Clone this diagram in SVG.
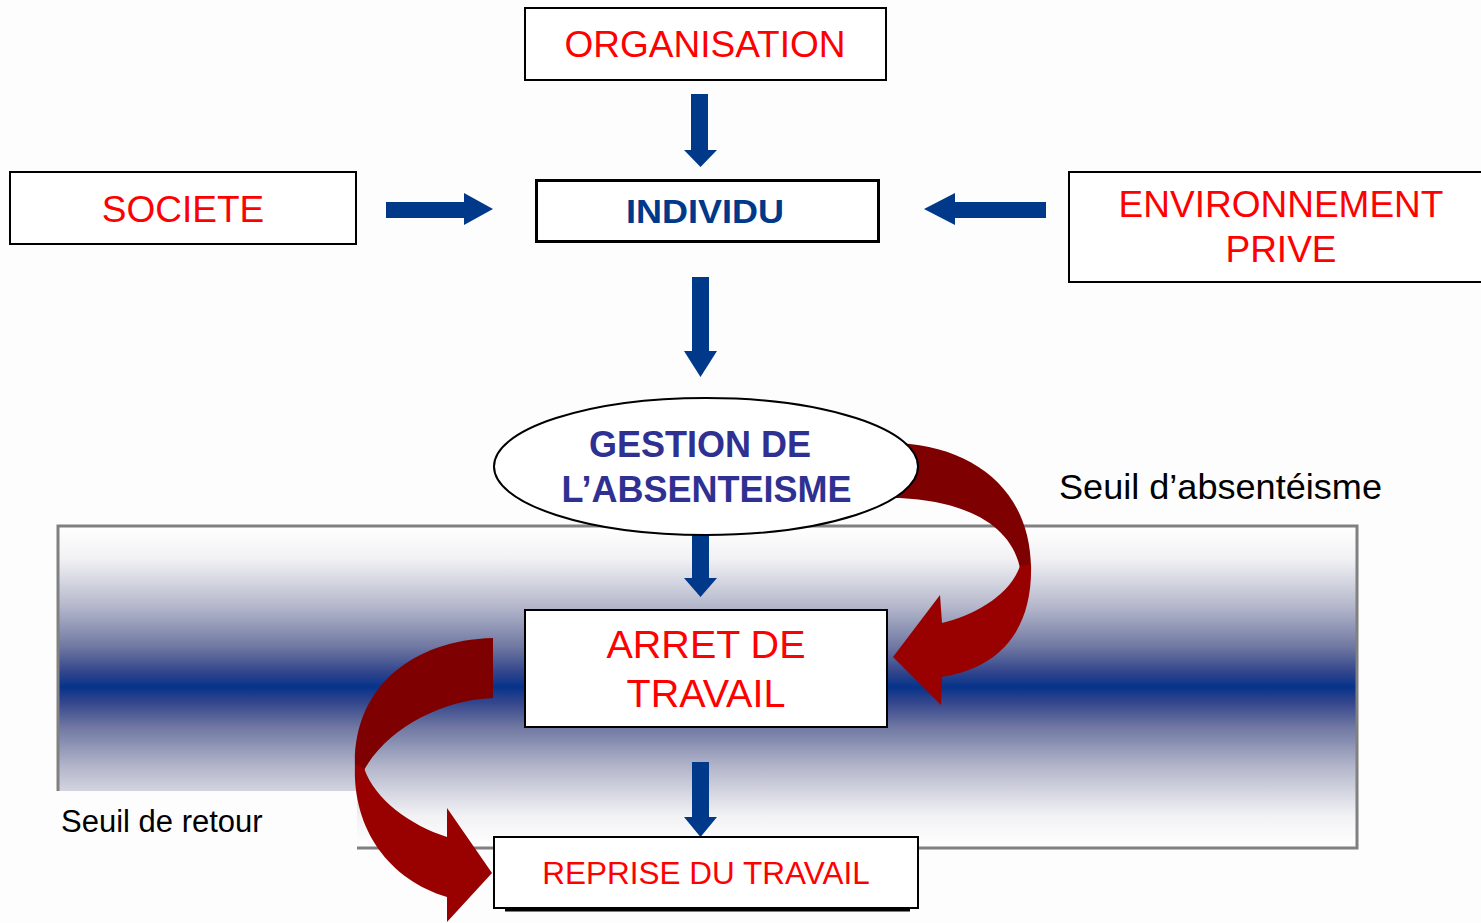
<svg xmlns="http://www.w3.org/2000/svg" width="1481" height="923" viewBox="0 0 1481 923">
<defs>
<style>
.box{fill:#fff;stroke:#000;stroke-width:2}
.red{font-family:"Liberation Sans",Arial,sans-serif;fill:#ff0000;text-anchor:middle}
.lbl{font-family:"Liberation Sans",Arial,sans-serif;fill:#000}
.blue{fill:#00388a}
.dark{fill:#7f0000}
.bright{fill:#990000}
</style>
<linearGradient id="band" x1="0" y1="0" x2="0" y2="1">
<stop offset="0" stop-color="#ffffff"/>
<stop offset="0.1" stop-color="#f2f2f5"/>
<stop offset="0.25" stop-color="#b4b7cb"/>
<stop offset="0.375" stop-color="#7078a2"/>
<stop offset="0.45" stop-color="#35478d"/>
<stop offset="0.5" stop-color="#06338a"/>
<stop offset="0.55" stop-color="#35478d"/>
<stop offset="0.625" stop-color="#7078a2"/>
<stop offset="0.75" stop-color="#b4b7cb"/>
<stop offset="0.9" stop-color="#f2f2f5"/>
<stop offset="1" stop-color="#ffffff"/>
</linearGradient>
</defs>
<rect x="0" y="0" width="1481" height="923" fill="#fdfdfd"/>
<g id="band-zone">
<rect x="58" y="526" width="1299" height="322" fill="url(#band)" stroke="#808080" stroke-width="3"/>
<rect x="40" y="791" width="317" height="70" fill="#fdfdfd"/>
</g>
<g id="connectors">
<g id="curve-right">
<path class="dark" d="M880 443 L900 443 C975 448 1030 490 1031 568 L1020 568 C1012 530 975 502 900 498 L880 498 Z"/>
<path class="bright" d="M1031 564 C1033 630 1000 668 942 677 L941 705 L893 657 L940 595 L942 623 C975 615 1010 595 1020 566 Z"/>
</g>
<g id="curve-left">
<path class="dark" d="M493 638 L493 698 C440 700 385 730 363 772 L355 768 C352 690 410 640 493 638 Z"/>
<path class="bright" d="M355 764 C352 830 390 880 447 897 L447 922 L492 873 L447 808 L447 837 C410 825 375 800 364 768 Z"/>
</g>
<path class="blue" d="M691 94 H708 V150 H717 L700.5 167 L684 150 H691 Z"/>
<path class="blue" d="M386 202 H464 V193 L493 209 L464 225 V218 H386 Z"/>
<path class="blue" d="M1046 202 H955 V193 L924 209 L955 225 V218 H1046 Z"/>
<path class="blue" d="M692 277 H709 V351 H717 L700.5 377 L684 351 H692 Z"/>
<path class="blue" d="M692 535 H709 V578 H717 L700.5 597 L684 578 H692 Z"/>
<path class="blue" d="M692 762 H709 V817 H717 L700.5 837 L684 817 H692 Z"/>
</g>
<g id="organisation">
<rect class="box" x="525" y="8" width="361" height="72"/>
<text class="red" x="705" y="57" font-size="37">ORGANISATION</text>
</g>
<g id="societe">
<rect class="box" x="10" y="172" width="346" height="72"/>
<text class="red" x="183" y="222" font-size="37">SOCIETE</text>
</g>
<g id="individu">
<rect x="536.5" y="180.5" width="342" height="61" fill="#fff" stroke="#000" stroke-width="3"/>
<text x="705" y="223" font-family="'Liberation Sans',Arial,sans-serif" font-weight="bold" font-size="33" fill="#00388a" text-anchor="middle" textLength="158" lengthAdjust="spacingAndGlyphs">INDIVIDU</text>
</g>
<g id="environnement">
<rect class="box" x="1069" y="172" width="430" height="110"/>
<text class="red" x="1281" y="217" font-size="37">ENVIRONNEMENT</text>
<text class="red" x="1281" y="262" font-size="37">PRIVE</text>
</g>
<g id="gestion">
<ellipse cx="706" cy="466.5" rx="212" ry="68.5" fill="#fff" stroke="#000" stroke-width="2"/>
<text x="700" y="457" font-family="'Liberation Sans',Arial,sans-serif" font-weight="bold" font-size="36" fill="#2e3192" text-anchor="middle">GESTION DE</text>
<text x="706.5" y="502" font-family="'Liberation Sans',Arial,sans-serif" font-weight="bold" font-size="36" fill="#2e3192" text-anchor="middle">L’ABSENTEISME</text>
</g>
<g id="arret">
<rect class="box" x="525" y="610" width="362" height="117"/>
<text class="red" x="706" y="658" font-size="39.5">ARRET DE</text>
<text class="red" x="706" y="707" font-size="39.5">TRAVAIL</text>
</g>
<g id="reprise">
<line x1="505" y1="910" x2="910" y2="910" stroke="#000" stroke-width="3"/>
<rect class="box" x="494" y="837" width="424" height="71"/>
<text class="red" x="706" y="884" font-size="31.5">REPRISE DU TRAVAIL</text>
</g>
<g id="labels">
<text class="lbl" x="1059" y="499" font-size="35" textLength="323" lengthAdjust="spacingAndGlyphs">Seuil d’absentéisme</text>
<text class="lbl" x="61" y="832" font-size="31">Seuil de retour</text>
</g>
</svg>
